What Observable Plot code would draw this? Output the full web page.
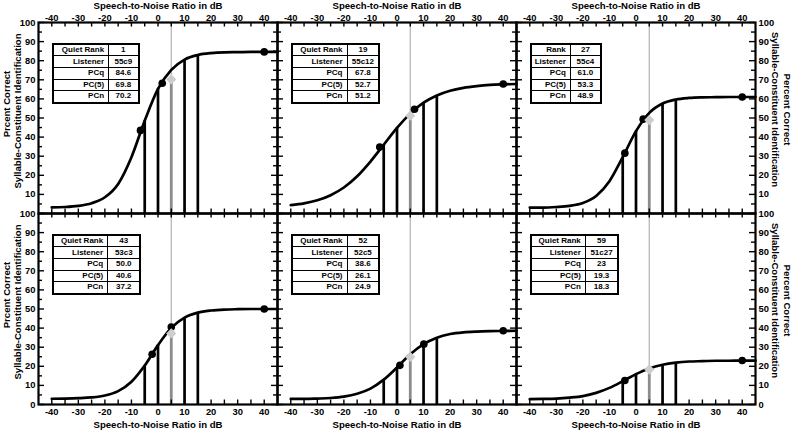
<!DOCTYPE html>
<html><head><meta charset="utf-8">
<script src="https://cdn.jsdelivr.net/npm/d3@7"></script>
<script src="https://cdn.jsdelivr.net/npm/@observablehq/plot@0.6"></script>
<style>
body{margin:0;background:#fff;}
#root{position:relative;width:792px;height:431px;overflow:hidden;font-family:"Liberation Sans",Arial,sans-serif;font-weight:bold;color:#000;}
.panel{position:absolute;}
.panel svg{overflow:visible;display:block;}
table.info{position:absolute;border-collapse:collapse;border:2px solid #000;font-size:8px;background:#fff;table-layout:fixed;}
table.info td{border:1px solid #000;padding:0;height:10.6px;line-height:10px;white-space:nowrap;overflow:hidden;}
table.info td.l{text-align:right;padding-right:4px;}
table.info td.v{text-align:center;}
</style>
</head><body><div id="root"></div>
<script>
// ---- data ----
const snr = [-40,-35,-30,-25,-20,-15,-10,-5,0,5,10,15,20,25,30,35,40,45];
const pcCurve1 = [3.2,3.4,4.0,5.4,8.5,15.5,29.5,48.6,65.2,75.2,80.6,83.0,84.0,84.4,84.5,84.6,84.6,84.6];
const pcCurve2 = [4.4,5.3,6.9,9.6,13.6,19.5,27.2,36.0,44.8,52.3,58.0,61.8,64.3,65.8,66.7,67.3,67.6,67.8];
const pcCurve3 = [3.1,3.1,3.4,4.0,5.5,9.2,16.9,29.5,43.1,52.7,57.6,59.7,60.5,60.8,60.9,61.0,61.0,61.0];
const pcCurve4 = [3.0,3.1,3.3,3.7,4.7,7.0,11.9,20.4,31.1,40.1,45.5,48.1,49.2,49.7,49.9,50.0,50.0,50.0];
const pcCurve5 = [2.9,2.9,3.1,3.4,4.1,5.6,8.3,13.0,19.4,26.3,31.6,35.0,36.9,37.8,38.2,38.4,38.5,38.6];
const pcCurve6 = [2.8,2.9,3.1,3.6,4.4,6.1,8.7,12.2,15.9,18.9,20.8,21.9,22.5,22.7,22.9,22.9,23.0,23.0];
const barSnr = [-5,0,10,15];
const dotSnr1 = [-6.6,1.6,40],  dotPc1 = [43.5,68.2,84.6];
const dotSnr2 = [-6.5,6.6,40],  dotPc2 = [34.8,54.6,67.8];
const dotSnr3 = [-4.2,2.7,40],  dotPc3 = [31.6,49.4,61.0];
const dotSnr4 = [-2.2,5.0,40],  dotPc4 = [26.3,40.6,50.0];
const dotSnr5 = [1.1,10.1,40],  dotPc5 = [20.5,31.6,38.6];
const dotSnr6 = [-4.2,40],      dotPc6 = [12.6,23.0];
const pcnSnr = 5;
const rankLabel = ["Quiet Rank","Quiet Rank","Rank","Quiet Rank","Quiet Rank","Quiet Rank"];
const rankValue = ["1","19","27","43","52","59"];
const listener = ["55c9","55c12","55c4","53c3","52c5","51c27"];
const pcqText = ["84.6","67.8","61.0","50.0","38.6","23"];
const pc5Text = ["69.8","52.7","53.3","40.6","26.1","19.3"];
const pcnText = ["70.2","51.2","48.9","37.2","24.9","18.3"];
const xTickLabels = [-40,-30,-20,-10,0,10,20,30,40];
const xTickMarks = [-40,-35,-30,-25,-20,-15,-10,-5,0,5,10,15,20,25,30,35,40];
const yMajor = [0,10,20,30,40,50,60,70,80,90,100];
const yMinor = [5,15,25,35,45,55,65,75,85,95];
const yLabelsTop = [10,20,30,40,50,60,70,80,90,100];
const yLabelsBottom = [0,10,20,30,40,50,60,70,80,90,100];
const xTitle = "Speech-to-Noise Ratio in dB";
const yTitleLeft = ["Prcent Correct","Syllable-Constituent Identification"];
const yTitleRight = ["Percent Correct","Syllable-Constituent Identification"];

// ---- layout ----
const curves = [pcCurve1,pcCurve2,pcCurve3,pcCurve4,pcCurve5,pcCurve6];
const dotSnrs = [dotSnr1,dotSnr2,dotSnr3,dotSnr4,dotSnr5,dotSnr6];
const dotPcs = [dotPc1,dotPc2,dotPc3,dotPc4,dotPc5,dotPc6];
const frameLeft = [38,277,516], frameTop = [22,213];
const W = 239, H = 191;
const colW = [[55.6,30],[55,32.3],[39.3,30.7],[54.7,32.7],[55,32.3],[54.3,33]];
const root = document.getElementById("root");
const kx = 90 / W, ky = 100 / H;
const TF = 9.4, LF = 9.6;

for (let i = 0; i < 6; i++) {
  const row = Math.floor(i / 3), col = i % 3;
  const curve = snr.map((x, k) => ({x, y: curves[i][k]}));
  const bars = barSnr.map(x => ({x, y: curves[i][snr.indexOf(x)]}));
  const dots = dotSnrs[i].map((x, k) => ({x, y: dotPcs[i][k]}));
  const pcn = [{x: pcnSnr, y: +pcnText[i]}];
  const marks = [
    Plot.ruleX([pcnSnr], {x: d => d, stroke: "#b8b8b8", strokeWidth: 1.3}),
    Plot.ruleX(bars, {x: "x", y1: 0, y2: "y", stroke: "#000", strokeWidth: 2.7}),
    Plot.ruleX(pcn, {x: "x", y1: 0, y2: "y", stroke: "#8c8c8c", strokeWidth: 2.8}),
    Plot.line(curve, {x: "x", y: "y", curve: "monotone-x", stroke: "#000", strokeWidth: 2.7}),
    Plot.dot(dots, {x: "x", y: "y", r: 3.8, fill: "#000", stroke: "none"}),
    Plot.dot(pcn, {x: "x", y: "y", symbol: "diamond2", r: 4.6, fill: "#cdcdcd", stroke: "none"}),
    Plot.ruleX(xTickMarks, {x: d => d, y1: 100, y2: 100 - 4.5 * ky, stroke: "#000", strokeWidth: 1.4}),
    Plot.ruleX(xTickMarks, {x: d => d, y1: 0, y2: 4.5 * ky, stroke: "#000", strokeWidth: 1.4}),
    Plot.ruleY(yMajor, {y: d => d, x1: -45, x2: -45 + 6 * kx, stroke: "#000", strokeWidth: 1.4}),
    Plot.ruleY(yMinor, {y: d => d, x1: -45, x2: -45 + 4 * kx, stroke: "#000", strokeWidth: 1.4}),
    Plot.ruleY(yMajor, {y: d => d, x1: 45, x2: 45 - 6 * kx, stroke: "#000", strokeWidth: 1.4}),
    Plot.ruleY(yMinor, {y: d => d, x1: 45, x2: 45 - 4 * kx, stroke: "#000", strokeWidth: 1.4}),
    Plot.frame({stroke: "#000", strokeWidth: 2.2})
  ];
  if (row === 0) {
    marks.push(Plot.axisX(xTickLabels, {anchor: "top", tickSize: 0, tickPadding: 2, tickFormat: d => String(d), label: null, fontSize: TF}));
    marks.push(Plot.text([xTitle], {text: d => d, frameAnchor: "top", dy: -16.8, textAnchor: "middle", lineAnchor: "middle", fontSize: LF}));
  } else {
    marks.push(Plot.axisX(xTickLabels, {anchor: "bottom", tickSize: 0, tickPadding: 4, tickFormat: d => String(d), label: null, fontSize: TF}));
    marks.push(Plot.text([xTitle], {text: d => d, frameAnchor: "bottom", dy: 20.8, textAnchor: "middle", lineAnchor: "middle", fontSize: LF}));
  }
  const yl = row === 0 ? yLabelsTop : yLabelsBottom;
  if (col === 0) {
    marks.push(Plot.axisY(yl, {anchor: "left", tickSize: 0, tickPadding: 3, tickFormat: d => String(d), label: null, fontSize: TF}));
    marks.push(Plot.text([yTitleLeft[0]], {text: d => d, frameAnchor: "left", rotate: -90, dx: -31.5, dy: -14, textAnchor: "middle", lineAnchor: "middle", fontSize: LF}));
    marks.push(Plot.text([yTitleLeft[1]], {text: d => d, frameAnchor: "left", rotate: -90, dx: -21, dy: -7, textAnchor: "middle", lineAnchor: "middle", fontSize: LF}));
  }
  if (col === 2) {
    marks.push(Plot.axisY(yl, {anchor: "right", tickSize: 0, tickPadding: 3, tickFormat: d => String(d), label: null, fontSize: TF}));
    marks.push(Plot.text([yTitleRight[0]], {text: d => d, frameAnchor: "right", rotate: 90, dx: 31.5, dy: -8.5, textAnchor: "middle", lineAnchor: "middle", fontSize: LF}));
    marks.push(Plot.text([yTitleRight[1]], {text: d => d, frameAnchor: "right", rotate: 90, dx: 20, dy: -8.5, textAnchor: "middle", lineAnchor: "middle", fontSize: LF}));
  }
  const svg = Plot.plot({
    width: W, height: H, margin: 0,
    x: {domain: [-45, 45], axis: null},
    y: {domain: [0, 100], axis: null},
    style: {overflow: "visible", background: "transparent", fontFamily: "'Liberation Sans', Arial, sans-serif", fontWeight: "bold", fontSize: "9px", color: "#000"},
    marks
  });
  const div = document.createElement("div");
  div.className = "panel";
  div.style.left = frameLeft[col] + "px";
  div.style.top = frameTop[row] + "px";
  div.appendChild(svg);
  root.appendChild(div);

  // info table
  const t = document.createElement("table");
  t.className = "info";
  t.style.left = (frameLeft[col] + 14) + "px";
  t.style.top = (frameTop[row] + 20.8) + "px";
  const cg = document.createElement("colgroup");
  colW[i].forEach(w => { const c = document.createElement("col"); c.style.width = w + "px"; cg.appendChild(c); });
  t.appendChild(cg);
  const rows = [[rankLabel[i], rankValue[i]], ["Listener", listener[i]], ["PCq", pcqText[i]], ["PC(5)", pc5Text[i]], ["PCn", pcnText[i]]];
  rows.forEach(([a, b]) => {
    const tr = document.createElement("tr");
    const td1 = document.createElement("td"); td1.className = "l"; td1.textContent = a;
    const td2 = document.createElement("td"); td2.className = "v"; td2.textContent = b;
    tr.appendChild(td1); tr.appendChild(td2); t.appendChild(tr);
  });
  root.appendChild(t);
}
</script></body></html>
